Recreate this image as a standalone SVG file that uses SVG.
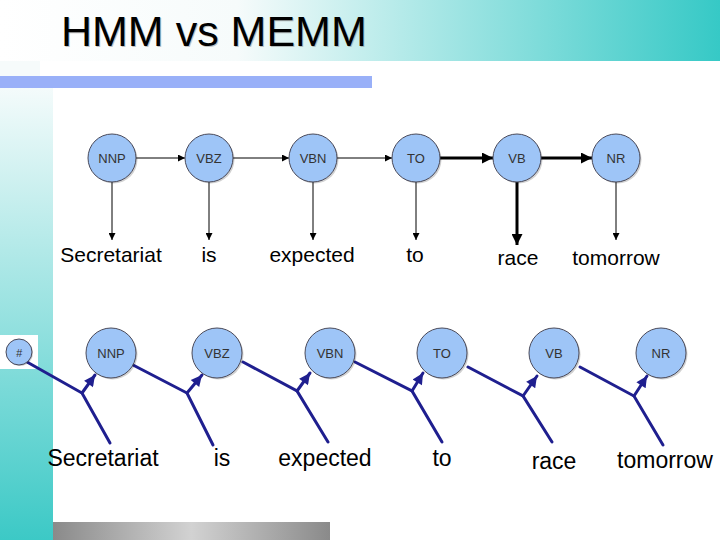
<svg xmlns="http://www.w3.org/2000/svg" width="720" height="540" viewBox="0 0 720 540">
<defs>
<linearGradient id="hdr" x1="0" y1="0" x2="1" y2="0">
<stop offset="0" stop-color="#ffffff"/>
<stop offset="0.33" stop-color="#f6fbfb"/>
<stop offset="1" stop-color="#36c9c6"/>
</linearGradient>
<linearGradient id="side" x1="0" y1="0" x2="0" y2="1">
<stop offset="0" stop-color="#f4fbfb"/>
<stop offset="1" stop-color="#3cc9c6"/>
</linearGradient>
<linearGradient id="gray" x1="0" y1="0" x2="1" y2="0">
<stop offset="0" stop-color="#8a8a8a"/>
<stop offset="0.5" stop-color="#d2d2d2"/>
<stop offset="1" stop-color="#8a8a8a"/>
</linearGradient>
<marker id="ah" viewBox="0 0 10 10" refX="10" refY="5" markerWidth="8" markerHeight="7" markerUnits="userSpaceOnUse" orient="auto">
<path d="M0,0 L10,5 L0,10 z" fill="#000"/>
</marker>
<marker id="ahb" viewBox="0 0 10 10" refX="10" refY="5" markerWidth="14" markerHeight="11" markerUnits="userSpaceOnUse" orient="auto">
<path d="M0,0 L10,5 L0,10 z" fill="#000"/>
</marker>
<marker id="ahn" viewBox="0 0 10 10" refX="10" refY="5" markerWidth="13" markerHeight="11" markerUnits="userSpaceOnUse" orient="auto">
<path d="M0,0 L10,5 L0,10 z" fill="#1f1f8f"/>
</marker>
</defs>
<style>
.node circle{fill:#9ec5f7;stroke:#4a4a5a;stroke-width:1}
.node .sh{fill:#000;opacity:0.18;stroke:none}
.node text{font-family:"Liberation Sans",Arial,sans-serif;font-size:13px;fill:#333;text-anchor:middle}
.word{font-family:"Liberation Sans",Arial,sans-serif;fill:#000;text-anchor:middle}
.w1{font-size:21px}
.w2{font-size:23px}
.thin{stroke:#000;stroke-width:1;fill:none}
.thick{stroke:#000;stroke-width:3;fill:none}
.navy{stroke:#1f1f8f;stroke-width:3;fill:none;stroke-linecap:round}
</style>
<rect x="0" y="0" width="720" height="540" fill="#fff"/>
<rect x="0" y="0" width="720" height="61" fill="url(#hdr)"/>
<rect x="0" y="61" width="40" height="15" fill="#f6fbfb"/>
<rect x="0" y="88" width="53" height="452" fill="url(#side)"/>
<rect x="0" y="76" width="372" height="12" fill="#99b0f8"/>
<rect x="53" y="522" width="277" height="18" fill="url(#gray)"/>
<rect x="0" y="335" width="38" height="34" fill="#fff"/>
<text x="62" y="47" font-family="Liberation Sans,Arial,sans-serif" font-size="43" fill="#888" opacity="0.5">HMM vs MEMM</text>
<text x="61" y="46" font-family="Liberation Sans,Arial,sans-serif" font-size="43" fill="#000">HMM vs MEMM</text>
<g id="connectors">
<line class="thin" x1="136" y1="158" x2="185" y2="158" marker-end="url(#ah)"/>
<line class="thin" x1="233" y1="158" x2="289" y2="158" marker-end="url(#ah)"/>
<line class="thin" x1="337" y1="158" x2="392" y2="158" marker-end="url(#ah)"/>
<line class="thick" x1="440" y1="158" x2="493" y2="158" marker-end="url(#ahb)"/>
<line class="thick" x1="541" y1="158" x2="592" y2="158" marker-end="url(#ahb)"/>
<line class="thin" x1="112" y1="182" x2="112" y2="240" marker-end="url(#ah)"/>
<line class="thin" x1="209" y1="182" x2="209" y2="240" marker-end="url(#ah)"/>
<line class="thin" x1="313" y1="182" x2="313" y2="240" marker-end="url(#ah)"/>
<line class="thin" x1="416" y1="182" x2="416" y2="240" marker-end="url(#ah)"/>
<line class="thick" x1="517" y1="182" x2="517" y2="245" marker-end="url(#ahb)"/>
<line class="thin" x1="616" y1="182" x2="616" y2="240" marker-end="url(#ah)"/>
<polyline class="navy" points="27,362 82,393 110,443"/>
<line class="navy" x1="82" y1="393" x2="95" y2="375" marker-end="url(#ahn)"/>
<polyline class="navy" points="133,365 187,393 213,445"/>
<line class="navy" x1="187" y1="393" x2="202" y2="375" marker-end="url(#ahn)"/>
<polyline class="navy" points="243,362 297,391 328,442"/>
<line class="navy" x1="297" y1="391" x2="310" y2="373" marker-end="url(#ahn)"/>
<polyline class="navy" points="355,362 412,391 442,442"/>
<line class="navy" x1="412" y1="391" x2="423" y2="373" marker-end="url(#ahn)"/>
<polyline class="navy" points="468,367 523,396 552,442"/>
<line class="navy" x1="523" y1="396" x2="537" y2="376" marker-end="url(#ahn)"/>
<polyline class="navy" points="580,367 634,396 663,445"/>
<line class="navy" x1="634" y1="396" x2="647" y2="376" marker-end="url(#ahn)"/>
</g>
<g id="n-top-NNP" class="node"><circle class="sh" cx="113.5" cy="159.5" r="24"/><circle cx="112" cy="158" r="24"/><text x="112" y="163">NNP</text></g>
<g id="n-top-VBZ" class="node"><circle class="sh" cx="210.5" cy="159.5" r="24"/><circle cx="209" cy="158" r="24"/><text x="209" y="163">VBZ</text></g>
<g id="n-top-VBN" class="node"><circle class="sh" cx="314.5" cy="159.5" r="24"/><circle cx="313" cy="158" r="24"/><text x="313" y="163">VBN</text></g>
<g id="n-top-TO" class="node"><circle class="sh" cx="417.5" cy="159.5" r="24"/><circle cx="416" cy="158" r="24"/><text x="416" y="163">TO</text></g>
<g id="n-top-VB" class="node"><circle class="sh" cx="518.5" cy="159.5" r="24"/><circle cx="517" cy="158" r="24"/><text x="517" y="163">VB</text></g>
<g id="n-top-NR" class="node"><circle class="sh" cx="617.5" cy="159.5" r="24"/><circle cx="616" cy="158" r="24"/><text x="616" y="163">NR</text></g>
<g id="n-bot-start" class="node"><circle class="sh" cx="20" cy="353" r="13"/><circle cx="19" cy="352" r="13"/><text x="19" y="357" style="font-size:11px;font-style:italic">#</text></g>
<g id="n-bot-NNP" class="node"><circle class="sh" cx="112.5" cy="354.5" r="25"/><circle cx="111" cy="353" r="25"/><text x="111" y="358">NNP</text></g>
<g id="n-bot-VBZ" class="node"><circle class="sh" cx="218.5" cy="354.5" r="25"/><circle cx="217" cy="353" r="25"/><text x="217" y="358">VBZ</text></g>
<g id="n-bot-VBN" class="node"><circle class="sh" cx="331.5" cy="354.5" r="25"/><circle cx="330" cy="353" r="25"/><text x="330" y="358">VBN</text></g>
<g id="n-bot-TO" class="node"><circle class="sh" cx="443.5" cy="354.5" r="25"/><circle cx="442" cy="353" r="25"/><text x="442" y="358">TO</text></g>
<g id="n-bot-VB" class="node"><circle class="sh" cx="555.5" cy="354.5" r="25"/><circle cx="554" cy="353" r="25"/><text x="554" y="358">VB</text></g>
<g id="n-bot-NR" class="node"><circle class="sh" cx="662.5" cy="354.5" r="25"/><circle cx="661" cy="353" r="25"/><text x="661" y="358">NR</text></g>
<g id="words-top">
<text class="word w1" x="111" y="262">Secretariat</text>
<text class="word w1" x="209" y="262">is</text>
<text class="word w1" x="312" y="262">expected</text>
<text class="word w1" x="415" y="262">to</text>
<text class="word w1" x="518" y="265">race</text>
<text class="word w1" x="616" y="265">tomorrow</text>
</g>
<g id="words-bottom">
<text class="word w2" x="103" y="466">Secretariat</text>
<text class="word w2" x="222" y="466">is</text>
<text class="word w2" x="325" y="466">expected</text>
<text class="word w2" x="442" y="466">to</text>
<text class="word w2" x="554" y="469">race</text>
<text class="word w2" x="665" y="468">tomorrow</text>
</g>
</svg>
